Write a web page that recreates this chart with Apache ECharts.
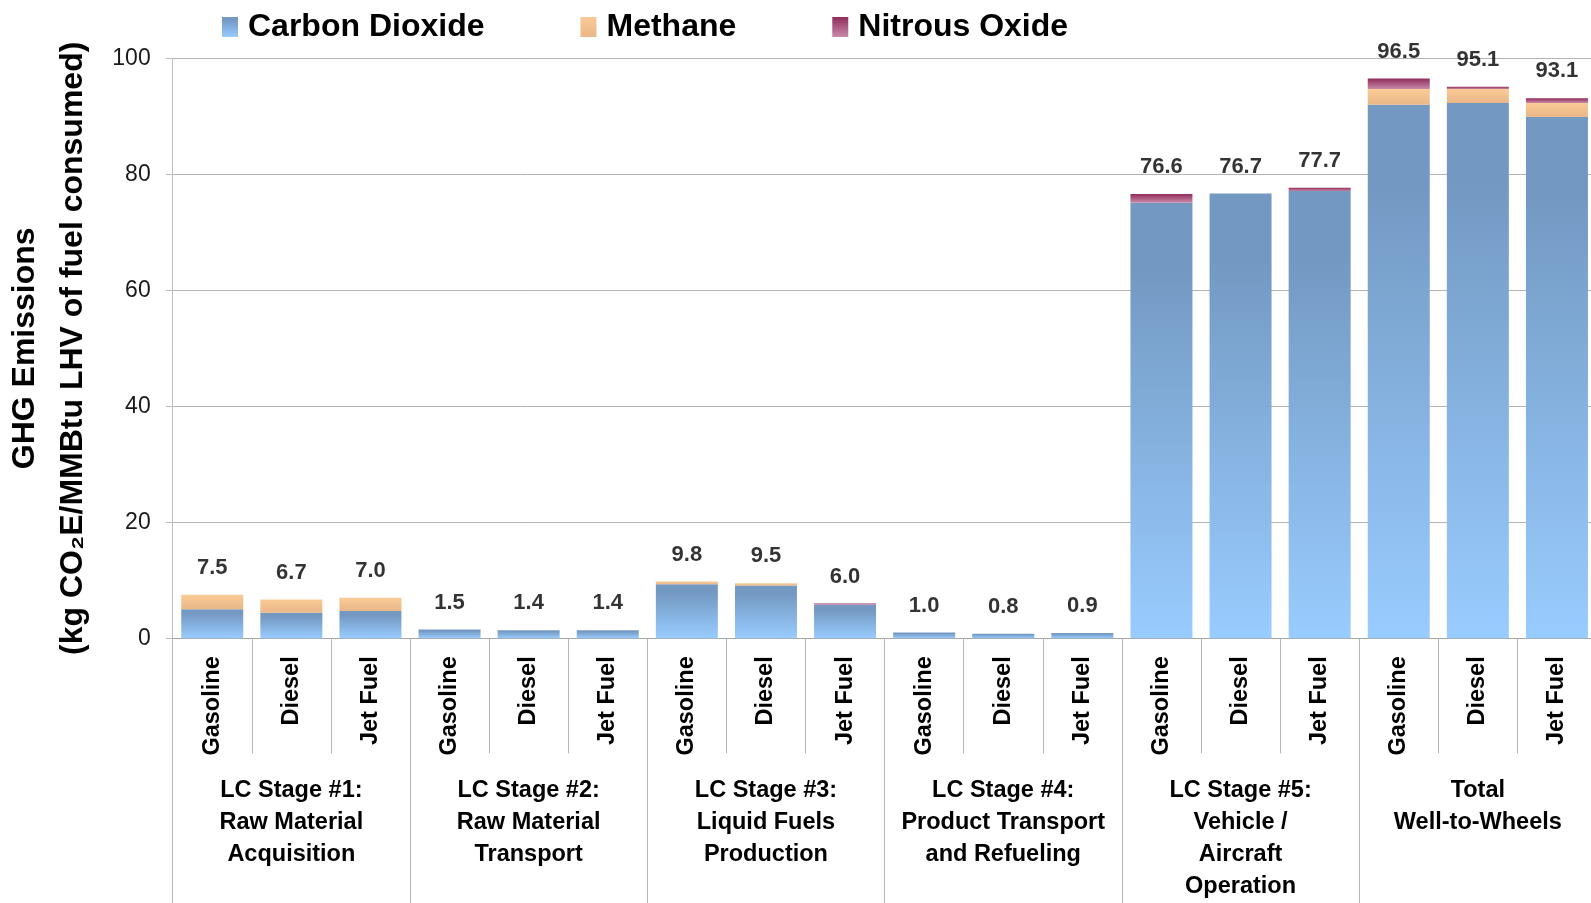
<!DOCTYPE html>
<html>
<head>
<meta charset="utf-8">
<script src="https://cdn.jsdelivr.net/npm/echarts@6/dist/echarts.min.js"></script>
<style>
html,body{margin:0;padding:0;background:#fff;}
#chart{width:1591px;height:903px;}
</style>
</head>
<body>
<div id="chart"></div>
<script>
const fuels = ['Gasoline','Diesel','Jet Fuel','Gasoline','Diesel','Jet Fuel','Gasoline','Diesel','Jet Fuel','Gasoline','Diesel','Jet Fuel','Gasoline','Diesel','Jet Fuel','Gasoline','Diesel','Jet Fuel'];
const stages = [
  'LC Stage #1:\nRaw Material\nAcquisition',
  'LC Stage #2:\nRaw Material\nTransport',
  'LC Stage #3:\nLiquid Fuels\nProduction',
  'LC Stage #4:\nProduct Transport\nand Refueling',
  'LC Stage #5:\nVehicle /\nAircraft\nOperation',
  'Total\nWell-to-Wheels'
];
const carbonDioxide = [5.0,4.4,4.7, 1.5,1.4,1.4, 9.3,9.1,5.8, 1.0,0.8,0.9, 75.1,76.7,77.1, 92.0,92.3,89.9];
const methane       = [2.5,2.3,2.3, 0.0,0.0,0.0, 0.5,0.4,0.0, 0.0,0.0,0.0, 0.0,0.0,0.0, 2.7,2.4,2.4];
const nitrousOxide  = [0.0,0.0,0.0, 0.0,0.0,0.0, 0.0,0.0,0.2, 0.0,0.0,0.0, 1.5,0.0,0.6, 1.8,0.4,0.8];
const totals        = [7.5,6.7,7.0, 1.5,1.4,1.4, 9.8,9.5,6.0, 1.0,0.8,0.9, 76.6,76.7,77.7, 96.5,95.1,93.1];
const yTicks = {min:0, max:100, interval:20};

const FONT = '"Liberation Sans", Arial, Helvetica, sans-serif';
const chart = echarts.init(document.getElementById('chart'), null, {renderer:'canvas'});
const grad = (a,b,mid) => new echarts.graphic.LinearGradient(0,0,0,1,
  mid ? [{offset:0,color:a},{offset:mid,color:a},{offset:1,color:b}] : [{offset:0,color:a},{offset:1,color:b}]);

const option = {
  animation:false,
  textStyle:{fontFamily:FONT},
  legend:{
    data:['Carbon Dioxide','Methane','Nitrous Oxide'],
    left:217, top:6,
    icon:'rect', itemWidth:16, itemHeight:20, itemGap:96,
    textStyle:{fontFamily:FONT, fontWeight:'bold', fontSize:32, color:'#000', padding:[0,0,0,5]}
  },
  grid:{left:172.7, right:-5.5, top:58.3, bottom:264.7, containLabel:false, outerBoundsMode:'none'},
  xAxis:[
    {
      type:'category', data:fuels, position:'bottom',
      axisLine:{show:true, lineStyle:{color:'#a6a6a6', width:1}},
      axisTick:{show:true, interval:0, length:115, lineStyle:{color:'#b4b4b4', width:1}},
      axisLabel:{interval:0, rotate:90, margin:18, fontFamily:FONT, fontWeight:'bold', fontSize:23.5, color:'#000'},
      splitLine:{show:false}
    },
    {
      type:'category', data:stages, position:'bottom', gridIndex:0,
      axisLine:{show:false},
      axisTick:{show:true, interval:0, length:265, lineStyle:{color:'#b4b4b4', width:1}},
      axisLabel:{interval:0, margin:136, lineHeight:32, fontFamily:FONT, fontWeight:'bold', fontSize:23.5, color:'#000'},
      splitLine:{show:false}
    }
  ],
  yAxis:{
    type:'value', min:yTicks.min, max:yTicks.max, interval:yTicks.interval,
    name:'GHG Emissions\n(kg CO\u2082E/MMBtu LHV of fuel consumed)',
    nameLocation:'middle', nameRotate:90, nameGap:75.5,
    nameTextStyle:{fontFamily:FONT, fontWeight:'bold', fontSize:32, lineHeight:48, color:'#000', align:'center'},
    axisLine:{show:true, lineStyle:{color:'#bdbdbd'}},
    axisTick:{show:true, length:7, lineStyle:{color:'#bdbdbd'}},
    axisLabel:{margin:22, fontFamily:FONT, fontSize:23, color:'#1a1a1a'},
    splitLine:{show:true, lineStyle:{color:'#b3b3b3', width:1}}
  },
  series:[
    {name:'Carbon Dioxide', type:'bar', stack:'ghg', barWidth:62, data:carbonDioxide,
     itemStyle:{color:grad('#7399C2','#99CCFF',0.15)}},
    {name:'Methane', type:'bar', stack:'ghg', barWidth:62, data:methane,
     itemStyle:{color:grad('#FBCB96','#E8B688')}},
    {name:'Nitrous Oxide', type:'bar', stack:'ghg', barWidth:62, data:nitrousOxide,
     itemStyle:{color:grad('#902C5B','#C98AA8')}},
    {name:'Total', type:'scatter', data:totals, symbolSize:0,
     itemStyle:{color:'rgba(0,0,0,0)'},
     label:{show:true, position:'top', distance:16, fontFamily:FONT, fontWeight:'bold', fontSize:22, color:'#000',
       formatter:p=>p.value.toFixed(1)},
     emphasis:{disabled:true}, silent:true, z:5}
  ]
};
chart.setOption(option);
</script>
</body>
</html>
